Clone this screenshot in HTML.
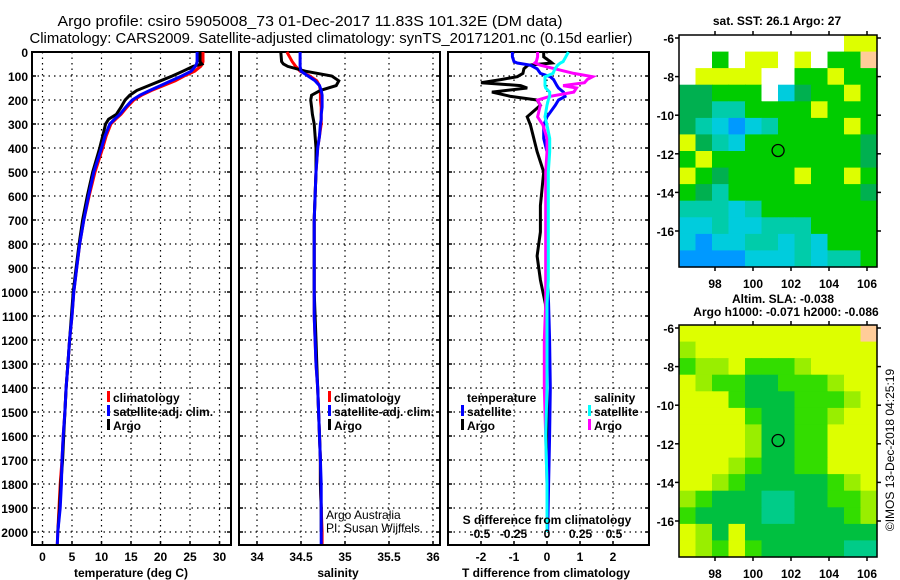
<!DOCTYPE html>
<html><head><meta charset="utf-8"><style>
html,body{margin:0;padding:0;background:#fff;width:900px;height:580px;overflow:hidden}
svg{display:block;font-family:"Liberation Sans",sans-serif}
.tk{font-size:12px;font-weight:bold;fill:#000}
.lg{font-size:12px;font-weight:bold;fill:#000}
</style></head><body>
<svg id="fig" width="900" height="580" viewBox="0 0 900 580">
<text x="310" y="26" text-anchor="middle" font-size="15" textLength="505" lengthAdjust="spacingAndGlyphs">Argo profile: csiro 5905008_73 01-Dec-2017 11.83S 101.32E (DM data)</text>
<text x="331" y="43" text-anchor="middle" font-size="15" textLength="603" lengthAdjust="spacingAndGlyphs">Climatology: CARS2009. Satellite-adjusted climatology: synTS_20171201.nc (0.15d earlier)</text>
<g id="p1"></g>
<g id="p2"></g>
<g id="p3"></g>
<g id="m1"></g>
<g id="m2"></g>
<text x="777" y="25" text-anchor="middle" class="tk">sat. SST: 26.1 Argo: 27</text>
<text x="783" y="303" text-anchor="middle" class="tk">Altim. SLA: -0.038</text>
<text x="786" y="316" text-anchor="middle" class="tk">Argo h1000: -0.071 h2000: -0.086</text>
<text transform="translate(894,450) rotate(-90)" text-anchor="middle" font-size="12">©IMOS 13-Dec-2018 04:25:19</text>
</svg>
<script>
// ---- data ----
const depthTicks = [0,100,200,300,400,500,600,700,800,900,1000,1100,1200,1300,1400,1500,1600,1700,1800,1900,2000];
const depthsP = [0,40,50,60,80,100,120,140,160,180,200,230,260,280,300,350,400,500,600,700,800,900,1000,1100,1200,1300,1400,1500,1600,1700,1800,1900,2000,2050];
const argoT = [26.7,26.7,27.0,25.5,23.8,22,20,18,16,14.8,14,13.3,12.5,11.2,10.7,10.2,9.7,8.5,7.6,6.8,6.2,5.7,5.2,4.9,4.6,4.3,4.0,3.8,3.6,3.4,3.1,2.9,2.6];
const climT = [27.2,27.2,27.1,26.8,25.8,24,22.5,20.5,18.5,16.8,15.5,14.3,13.3,12.4,11.6,10.8,10.2,8.9,7.9,7.0,6.3,5.8,5.3,5.0,4.6,4.3,4.0,3.8,3.5,3.3,3.0,2.8,2.6,2.5];
const satT = [26.2,26.2,26.1,25.9,25.2,23.6,21.8,20,18.2,16.5,15.2,14.1,13.1,12.2,11.4,10.6,10.0,8.7,7.8,7.0,6.3,5.8,5.3,5.0,4.6,4.3,4.0,3.8,3.5,3.3,3.2,3.0,2.6,2.5];
const argoS = [34.27,34.28,34.3,34.35,34.55,34.85,34.93,34.9,34.72,34.62,34.61,34.62,34.63,34.64,34.65,34.66,34.67,34.67,34.66,34.65,34.65,34.65,34.65,34.66,34.67,34.68,34.69,34.7,34.71,34.72,34.72,34.73,34.73];
const climS = [34.34,34.4,34.42,34.44,34.49,34.6,34.68,34.71,34.72,34.72,34.72,34.73,34.73,34.73,34.73,34.71,34.69,34.67,34.66,34.65,34.65,34.65,34.65,34.65,34.66,34.67,34.69,34.7,34.71,34.72,34.72,34.73,34.74,34.74];
const satS = [34.49,34.49,34.49,34.49,34.5,34.58,34.66,34.71,34.73,34.74,34.74,34.74,34.73,34.73,34.72,34.71,34.69,34.67,34.66,34.65,34.65,34.65,34.65,34.65,34.66,34.67,34.69,34.7,34.71,34.72,34.73,34.73,34.73,34.73];
const diffDepths = [0,20,40,46,55,70,89,103,115,128,140,150,167,185,200,222,270,305,360,415,500,640,750,850,950,1050,1200,1400,1600,1800,2000];
const tArgoDiff = [-0.1,-0.1,0.1,0.15,-0.58,-0.7,-0.73,-0.9,-1.4,-2.0,-0.8,-0.6,-1.67,-1.1,-0.3,-0.2,-0.6,-0.5,-0.4,-0.3,-0.1,-0.2,-0.2,-0.3,-0.2,-0.05,0,0,0,0,0];
const tSatDiff = [-1.05,-1.05,-1.0,-0.9,-0.5,-0.3,-0.2,0.1,0.2,0.25,0.3,0.35,0.5,0.55,0.35,0.25,0,-0.1,-0.1,0,0,0,0,0,0.02,0.05,0.08,0.1,0.08,0.05,0.02];
const sArgoDiff = [-0.07,-0.07,-0.08,-0.09,-0.05,0.06,0.2,0.34,0.3,0.28,0.12,0.22,0.2,0.02,-0.07,-0.05,-0.07,-0.03,0,0,-0.01,-0.01,-0.01,-0.01,-0.01,-0.01,-0.02,-0.02,-0.01,0,0];
const sSatDiff = [0.16,0.14,0.12,0.1,0.08,0.06,0.045,-0.015,-0.015,-0.015,-0.015,-0.01,0.02,0.02,0.01,0.0,-0.015,0,0.02,0.02,0.01,0.01,0.01,0.01,0.01,0,0,0,-0.01,0,0];
const tTicks = [0,5,10,15,20,25,30];
const sTicks = [34,34.5,35,35.5,36];
const dTTicks = [-2,-1,0,1,2];
const dSTicks = [-0.5,-0.25,0,0.25,0.5];
const dSTickLabels = ["-0.5","-0.25","0","0.25","0.5"];
const latTicks = [-6,-8,-10,-12,-14,-16];
const lonTicks = [98,100,102,104,106];
const sstGrid = ["WWWWWWWWWWYY","WWGWYYWYWGGO","WYYYYWWGGYGG","ggGGGWCgGGYG","ggTTGGGGYGGG","gTCBCTGGGGYG","YgTCGGGGGGGg","GYGGGGGGGGGg","YGgGGGGYGGYG","GgTGGGGGGGGg","TTTCTGGGGGGG","CCTCCTTTGGGG","CBCCTTCTCGGG","BBBBCCCTCTTG"];
const slaGrid = ["YYYYYYYYYYYO","LYYYYYYYYYYY","GLLYGGGLYYYY","YLGGggGGGLYY","YYYGgggGGGLY","YYYYGggGGLYY","YYYYLggGGYYY","YYYYLggGGYYY","YYYLGggGGYYY","YYLGgggggGLY","LGgggTTggGGL","GggggTTgggGL","YLgYgggggggg","YLGYGgggggT"];
const argoPos = [101.32,-11.83];

// ---- helpers ----
const NS="http://www.w3.org/2000/svg";
function mk(tag,attrs,parent){const e=document.createElementNS(NS,tag);for(const k in attrs)e.setAttribute(k,attrs[k]);parent.appendChild(e);return e;}
const yD = d => 52 + d*0.24;
const yTop=52, yBot=545;

function frame(g,x0,x1,name){
  depthTicks.forEach(d=>{
    const l=mk('line',{x1:x0,x2:x1,y1:yD(d),y2:yD(d),stroke:'#000','stroke-width':1.2,'stroke-dasharray':'1.5,4'},g);
    
    
    mk('line',{x1:x0,x2:x0+4,y1:yD(d),y2:yD(d),stroke:'#000','stroke-width':1.5},g);
    mk('line',{x1:x1-4,x2:x1,y1:yD(d),y2:yD(d),stroke:'#000','stroke-width':1.5},g);
  });
  const r=mk('rect',{x:x0,y:yTop,width:x1-x0,height:yBot-yTop,fill:'none',stroke:'#000','stroke-width':2},g);
  
  
}
function vgrid(g,xs){
  xs.forEach(x=>{
    const l=mk('line',{x1:x,x2:x,y1:yTop,y2:yBot,stroke:'#000','stroke-width':1.2,'stroke-dasharray':'1.5,4'},g);
    
    
    mk('line',{x1:x,x2:x,y1:yBot-4,y2:yBot,stroke:'#000','stroke-width':1.5},g);
  });
}
function series(g,depths,vals,fx,color,name,w){
  const pts=[];for(let i=0;i<vals.length&&i<depths.length;i++)pts.push(fx(vals[i]).toFixed(1)+','+yD(depths[i]).toFixed(1));
  const p=mk('polyline',{points:pts.join(' '),fill:'none',stroke:color,'stroke-width':w||3,'stroke-linejoin':'miter'},g);
  
  
}
function txt(g,x,y,s,cls,anchor,name){
  const t=mk('text',{x:x,y:y,'text-anchor':anchor||'start'},g);
  if(cls)t.setAttribute('class',cls);
  t.textContent=s;
  
  
  return t;
}
function legend(g,x,y,items,name){
  items.forEach((it,i)=>{
    const m=mk('rect',{x:x,y:y+i*14-11,width:3,height:11,fill:it[1]},g);
    
    
    txt(g,x+6,y+i*14,it[0],'lg','start',name+'-entry');
  });
}

// ---- panel 1: temperature ----
const p1=document.getElementById('p1');
const xT = t => 42.5 + t*5.9;
frame(p1,32,231,'temperature');
vgrid(p1,tTicks.map(xT));
depthTicks.forEach(d=>txt(p1,28,yD(d)+5,String(d),'tk','end','depth-tick-label'));
tTicks.forEach(t=>txt(p1,xT(t),561,String(t),'tk','middle','temperature-tick-label'));
txt(p1,131,577,'temperature (deg C)','tk','middle','temperature-axis-title');
series(p1,depthsP,climT,xT,'#ff0000','clim-temperature-line');
series(p1,depthsP,argoT,xT,'#000000','argo-temperature-line');
series(p1,depthsP,satT,xT,'#0000ff','sat-temperature-line');
legend(p1,107,402,[['climatology','#f00'],['satellite-adj. clim.','#00f'],['Argo','#000']],'temperature-legend');

// ---- panel 2: salinity ----
const p2=document.getElementById('p2');
const xS = s => 257 + (s-34)*88;
frame(p2,239,440,'salinity');
vgrid(p2,sTicks.map(xS));
sTicks.forEach(s=>txt(p2,xS(s),561,String(s),'tk','middle','salinity-tick-label'));
txt(p2,338,577,'salinity','tk','middle','salinity-axis-title');
series(p2,depthsP,climS,xS,'#ff0000','clim-salinity-line');
series(p2,depthsP,argoS,xS,'#000000','argo-salinity-line');
series(p2,depthsP,satS,xS,'#0000ff','sat-salinity-line');
legend(p2,328,402,[['climatology','#f00'],['satellite-adj. clim.','#00f'],['Argo','#000']],'salinity-legend');
(function(){const t=txt(p2,326,519,'Argo Australia','','start','credit-argo-australia');t.setAttribute('font-size','12');
const u=txt(p2,326,532,'PI: Susan Wijffels','','start','credit-pi');u.setAttribute('font-size','12');})();

// ---- panel 3: differences ----
const p3=document.getElementById('p3');
const xdT = v => 547 + v*33;
const xdS = v => 547 + v*134;
frame(p3,448,649,'difference');
vgrid(p3,dTTicks.map(xdT));
dTTicks.forEach(t=>txt(p3,xdT(t),561,String(t),'tk','middle','t-diff-tick-label'));
txt(p3,546,577,'T difference from climatology','tk','middle','t-diff-axis-title');
series(p3,diffDepths,tArgoDiff,xdT,'#000000','argo-t-diff-line');
series(p3,diffDepths,tSatDiff,xdT,'#0000ff','sat-t-diff-line');
series(p3,diffDepths,sArgoDiff,xdS,'#ff00ff','argo-s-diff-line');
series(p3,diffDepths,sSatDiff,xdS,'#00ffff','sat-s-diff-line');
txt(p3,547,524,'S difference from climatology','tk','middle','s-diff-axis-title');
dSTicks.forEach((s,i)=>txt(p3,xdS(s),538,dSTickLabels[i],'tk','middle','s-diff-tick-label'));
legend(p3,461,402,[['temperature','none'],['satellite','#00f'],['Argo','#000']],'t-diff-legend');
legend(p3,588,402,[['salinity','none'],['satellite','#0ff'],['Argo','#f0f']],'s-diff-legend');

// ---- maps ----
const lonX = l => 715 + (l-98)*19;
const latY = (la,y0) => y0 + (-6-la)*19.3;
function drawMap(g,grid,pal,y0,name){
  const x0=679,x1=877,w=x1-x0,h=232;
  const rows=grid.length,cols=12,cw=w/cols,ch=h/rows;
  grid.forEach((row,r)=>{
    for(let c=0;c<cols;c++){
      const k=row[c]||row[row.length-1];
      const cell=mk('rect',{x:(x0+c*cw).toFixed(1),y:(y0-3+r*ch).toFixed(1),width:(cw+0.6).toFixed(1),height:(ch+0.6).toFixed(1),fill:pal[k]},g);
      
      
    }
  });
  latTicks.forEach(la=>{
    const y=latY(la,y0);
    mk('line',{x1:x0-4,x2:x0,y1:y,y2:y,stroke:'#000','stroke-width':1.5},g);
    mk('line',{x1:x1,x2:x1+4,y1:y,y2:y,stroke:'#000','stroke-width':1.5},g);
    txt(g,x0-5,y+5,String(la),'tk','end',name+'-lat-label');
  });
  lonTicks.forEach(l=>{
    const x=lonX(l);
    mk('line',{x1:x,x2:x,y1:y0-3+h,y2:y0+1+h,stroke:'#000','stroke-width':1.5},g);
    mk('line',{x1:x,x2:x,y1:y0-7,y2:y0-3,stroke:'#000','stroke-width':1.5},g);
    txt(g,x,y0+h+18,String(l),'tk','middle',name+'-lon-label');
  });
  const c=mk('circle',{cx:lonX(argoPos[0]),cy:latY(argoPos[1],y0),r:6,fill:'none',stroke:'#000','stroke-width':1.3},g);
  
  
  const f=mk('rect',{x:x0,y:y0-3,width:w,height:h,fill:'none',stroke:'#000','stroke-width':1.5},g);
  
  
}
drawMap(document.getElementById('m1'),sstGrid,{W:'#fff',Y:'#ddff00',G:'#00cc00',g:'#00b050',T:'#00ccaa',C:'#00ccdd',B:'#0099ff',D:'#0000ff',O:'#ffcc99'},38,'sst-map');
drawMap(document.getElementById('m2'),slaGrid,{Y:'#ddff00',L:'#99ee00',G:'#33dd00',g:'#00c040',T:'#00cc88',O:'#ffcc99'},328,'sla-map');
</script>
</body></html>
